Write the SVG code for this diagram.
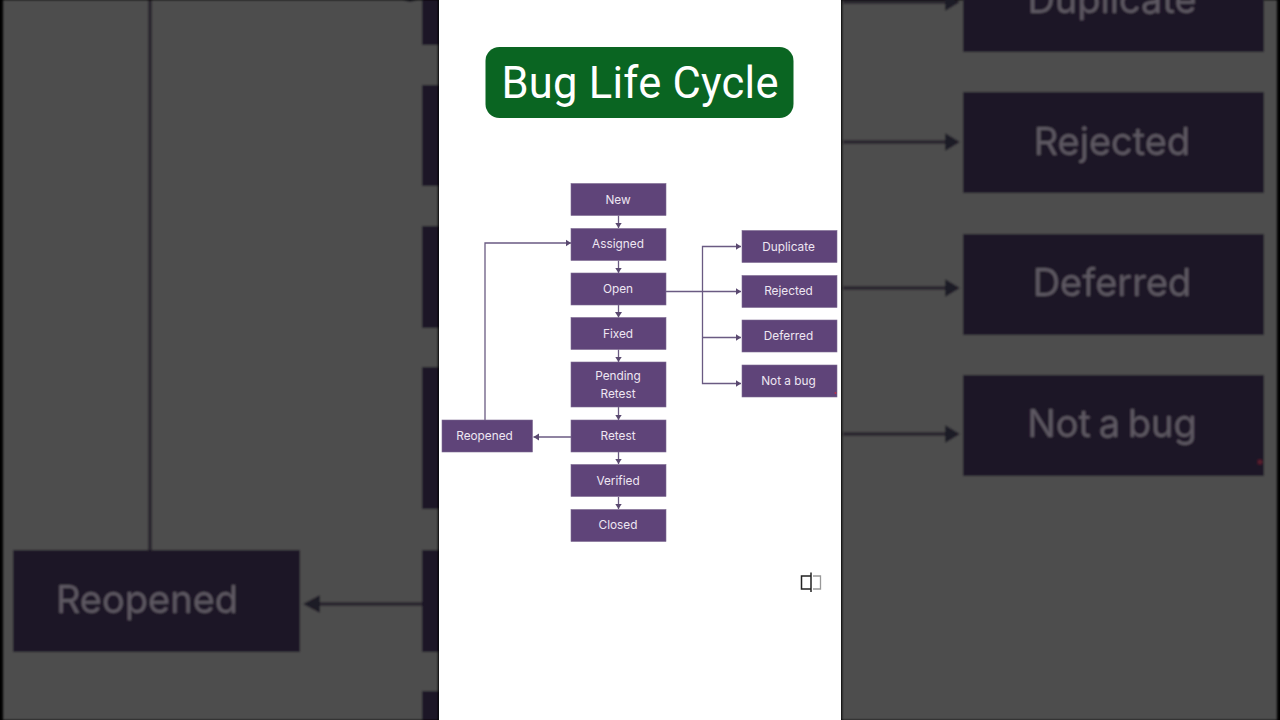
<svg xmlns="http://www.w3.org/2000/svg" width="1280" height="720" viewBox="0 0 1280 720">
<style>
.n{fill:#5f4479;stroke:#7d6c92;stroke-width:.6}
.t{font-family:"Inter","Liberation Sans",sans-serif;font-size:11.8px;fill:#eee6f2;text-anchor:middle}
.c{fill:none;stroke:#6a5a82;stroke-width:1.3}
.bb{fill:#1f1525}
.bt{font-family:"Inter","Liberation Sans",sans-serif;font-size:38px;fill:#5f5a64;text-anchor:middle}
.bl{fill:none;stroke:#2a272e;stroke-width:4}
.ba{fill:#1f1a27}
</style>
<defs>
<marker id="a" markerUnits="userSpaceOnUse" markerWidth="6" markerHeight="8" refX="5.5" refY="4" orient="auto"><path d="M0 .5L5.5 4L0 7.5z" fill="#5a4a70"/></marker>
<filter id="b" x="-5%" y="-5%" width="110%" height="110%"><feGaussianBlur stdDeviation="0.9"/></filter>
<filter id="s" x="-5%" y="-5%" width="110%" height="110%"><feGaussianBlur stdDeviation="0.3"/></filter>
</defs>
<rect width="1280" height="720" fill="#000"/>
<g id="backdrop-left" filter="url(#b)">
<rect x="3" y="0" width="435" height="720" fill="#4d4d4d"/>
<path class="bl" d="M150 0V550"/>
<rect class="bb" x="13" y="550" width="287" height="102"/>
<text class="bt" x="147" y="613">Reopened</text>
<path class="bl" d="M422 604H318"/>
<path class="ba" d="M303 604L320 595V613z"/>
<path class="ba" d="M403 0H417L410 2z"/>
<rect class="bb" x="422" y="0" width="16" height="45"/>
<rect class="bb" x="422" y="85" width="16" height="101"/>
<rect class="bb" x="422" y="226" width="16" height="102"/>
<rect class="bb" x="422" y="367" width="16" height="142"/>
<rect class="bb" x="422" y="550" width="16" height="102"/>
<rect class="bb" x="422" y="691" width="16" height="29"/>
</g>
<g id="backdrop-right" filter="url(#b)">
<rect x="842" y="0" width="435" height="720" fill="#4d4d4d"/>
<path class="bl" d="M843 2H948M843 142H948M843 288H948M843 434H948"/>
<path class="ba" d="M945 -7L960 2L945 11zM945 133L960 142L945 151zM945 279L960 288L945 297zM945 425L960 434L945 443z"/>
<rect class="bb" x="963" y="-50" width="301" height="102"/>
<rect class="bb" x="963" y="92" width="301" height="101"/>
<rect class="bb" x="963" y="234" width="301" height="101"/>
<rect class="bb" x="963" y="375" width="301" height="101"/>
<text class="bt" x="1112" y="13">Duplicate</text>
<text class="bt" x="1112" y="155">Rejected</text>
<text class="bt" x="1112" y="296">Deferred</text>
<text class="bt" x="1112" y="437" word-spacing="-3">Not a bug</text>
<circle cx="1260" cy="462" r="2.500" fill="#5a1a2a"/>
</g>
<rect x="439" y="0" width="402" height="720" fill="#fff"/>
<g id="title">
<rect x="485.500" y="47" width="308" height="71" rx="14" fill="#0a6522"/>
<text x="640" y="98" font-family="Roboto,'Liberation Sans',Arial,sans-serif" font-size="43.500" fill="#fff" text-anchor="middle" textLength="277" lengthAdjust="spacing">Bug Life Cycle</text>
</g>
<g id="connectors" filter="url(#s)">
<path class="c" d="M618.500 215.500V228" marker-end="url(#a)"/>
<path class="c" d="M618.500 260.500V273" marker-end="url(#a)"/>
<path class="c" d="M618.500 305V317.500" marker-end="url(#a)"/>
<path class="c" d="M618.500 349.500V362" marker-end="url(#a)"/>
<path class="c" d="M618.500 407V420" marker-end="url(#a)"/>
<path class="c" d="M618.500 452V464" marker-end="url(#a)"/>
<path class="c" d="M618.500 497V509" marker-end="url(#a)"/>
<path class="c" d="M485 420V243H571" marker-end="url(#a)"/>
<path class="c" d="M571 437H533.500" marker-end="url(#a)"/>
<path class="c" d="M666 291.500H741" marker-end="url(#a)"/>
<path class="c" d="M702.500 292V246.500H741" marker-end="url(#a)"/>
<path class="c" d="M702.500 291V383.500H741" marker-end="url(#a)"/>
<path class="c" d="M702.500 337.500H741" marker-end="url(#a)"/>
</g>
<g id="new"><rect class="n" x="571" y="183.500" width="95" height="32"/><text class="t" x="618" y="203.500">New</text></g>
<g id="assigned"><rect class="n" x="571" y="228.500" width="95" height="32"/><text class="t" x="618" y="248">Assigned</text></g>
<g id="open"><rect class="n" x="571" y="273" width="95" height="32"/><text class="t" x="618" y="293">Open</text></g>
<g id="fixed"><rect class="n" x="571" y="317.500" width="95" height="32"/><text class="t" x="618" y="337.500">Fixed</text></g>
<g id="pending-retest"><rect class="n" x="571" y="362" width="95" height="45"/><text class="t" x="618" y="380">Pending</text><text class="t" x="618" y="397.500">Retest</text></g>
<g id="retest"><rect class="n" x="571" y="420" width="95" height="32"/><text class="t" x="618" y="440">Retest</text></g>
<g id="verified"><rect class="n" x="571" y="464.500" width="95" height="32"/><text class="t" x="618" y="484.500">Verified</text></g>
<g id="closed"><rect class="n" x="571" y="509.500" width="95" height="32"/><text class="t" x="618" y="529">Closed</text></g>
<g id="reopened"><rect class="n" x="442" y="420" width="90.500" height="32"/><text class="t" x="484.500" y="440">Reopened</text></g>
<g id="duplicate"><rect class="n" x="742" y="230.500" width="95" height="32"/><text class="t" x="788.500" y="250.500">Duplicate</text></g>
<g id="rejected"><rect class="n" x="742" y="275.500" width="95" height="32"/><text class="t" x="788.500" y="295">Rejected</text></g>
<g id="deferred"><rect class="n" x="742" y="320" width="95" height="32"/><text class="t" x="788.500" y="340">Deferred</text></g>
<g id="not-a-bug"><rect class="n" x="742" y="365" width="95" height="32"/><text class="t" x="788.500" y="384.500">Not a bug</text></g>
<circle cx="835.500" cy="393" r="1" fill="#c0304a"/>
<g id="cursor" fill="none">
<path d="M811 576H801.500V589H811" stroke="#222" stroke-width="1.500"/>
<path d="M811 572.500V592" stroke="#222" stroke-width="1.500"/>
<path d="M813 576H820.500V589H813" stroke="#999" stroke-width="1.300"/>
</g>
</svg>
